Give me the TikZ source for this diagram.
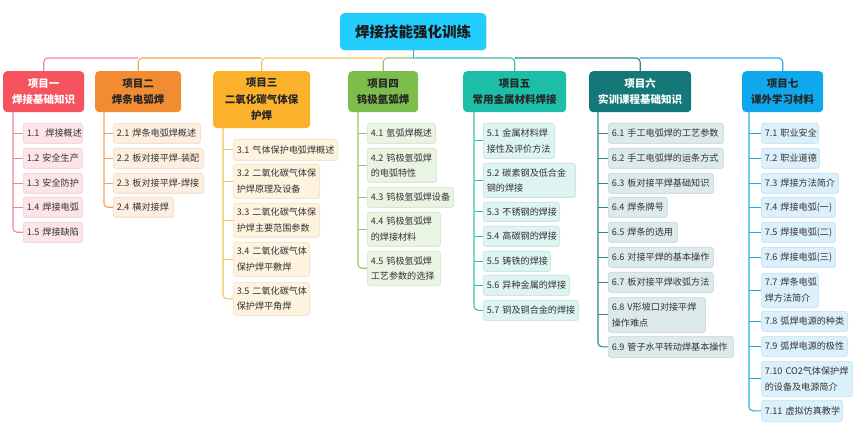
\documentclass[tikz,border=0pt]{standalone}
\usepackage{fontspec}
\setmainfont{Noto Sans CJK SC}
\usetikzlibrary{shadows}
\definecolor{tt}{HTML}{22CCFB}
\definecolor{p1}{HTML}{F6535E}
\definecolor{p2}{HTML}{F28C33}
\definecolor{p3}{HTML}{FBB12B}
\definecolor{p4}{HTML}{7CBD4B}
\definecolor{p5}{HTML}{1CBEA8}
\definecolor{p6}{HTML}{147878}
\definecolor{p7}{HTML}{10A8EC}
\definecolor{l1}{HTML}{EC8A92}
\definecolor{l2}{HTML}{F0A663}
\definecolor{l3}{HTML}{F5C35A}
\definecolor{l4}{HTML}{94C86B}
\definecolor{l5}{HTML}{3CBFAE}
\definecolor{l6}{HTML}{2E8787}
\definecolor{l7}{HTML}{2AA9E8}
\definecolor{f1}{HTML}{FCE4E7}\definecolor{d1}{HTML}{F3CDD2}
\definecolor{f2}{HTML}{FDEEDF}\definecolor{d2}{HTML}{F3DCC6}
\definecolor{f3}{HTML}{FEF3DF}\definecolor{d3}{HTML}{F3E2C2}
\definecolor{f4}{HTML}{EAF4E2}\definecolor{d4}{HTML}{D2E6C5}
\definecolor{f5}{HTML}{DDF4F1}\definecolor{d5}{HTML}{BFE5DF}
\definecolor{f6}{HTML}{DDEAEB}\definecolor{d6}{HTML}{C2D8DA}
\definecolor{f7}{HTML}{DCF0FB}\definecolor{d7}{HTML}{BFE2F5}
\definecolor{kt}{HTML}{333333}
\tikzset{
  proj/.style={rounded corners=4pt, inner sep=0pt, anchor=north west, align=center,
    font=\fontsize{10.5}{16.5}\selectfont\bfseries},
  kid/.style={rounded corners=2.5pt, line width=0.6pt, inner xsep=3.5pt, inner ysep=0pt,
    anchor=north west, align=left, text=kt, font=\fontsize{9.1}{15.5}\selectfont,
    drop shadow={opacity=0.12, shadow xshift=0.7pt, shadow yshift=-0.7pt}},
  k1/.style={kid, fill=f1, draw=d1}, k2/.style={kid, fill=f2, draw=d2},
  k3/.style={kid, fill=f3, draw=d3}, k4/.style={kid, fill=f4, draw=d4},
  k5/.style={kid, fill=f5, draw=d5}, k6/.style={kid, fill=f6, draw=d6},
  k7/.style={kid, fill=f7, draw=d7},
  conn/.style={line width=1.1pt, rounded corners=4pt},
  stub/.style={line width=1.1pt},
}
\newcommand\kbox[7]{\node[#2, text width=#5pt, minimum height=#6pt] (#1) at (#3,#4) {#7};}
\begin{document}
\begin{tikzpicture}[x=1pt, y=-1pt]
\fill[white] (0,0) rectangle (858,435);
\useasboundingbox (0,0) rectangle (858,435);

% title
\node[rounded corners=4pt, fill=tt, anchor=north west, minimum width=146pt, minimum height=37pt,
  inner sep=0pt, font=\fontsize{14.5}{16}\selectfont\bfseries, text=black!90,
  drop shadow={opacity=0.15, shadow xshift=0.8pt, shadow yshift=-0.8pt}] (t) at (340,13) {焊接技能强化训练};

% projects
\node[proj, fill=p1, text=white, minimum width=81pt, minimum height=41pt] (p1) at (3,71) {项目一\\焊接基础知识};
\node[proj, fill=p2, text=black!85, minimum width=86pt, minimum height=41pt] (p2) at (95,71) {项目二\\焊条电弧焊};
\node[proj, fill=p3, text=black!85, minimum width=97pt, minimum height=57pt] (p3) at (213,71) {项目三\\二氧化碳气体保\\护焊};
\node[proj, fill=p4, text=black!85, minimum width=70pt, minimum height=41pt] (p4) at (348,71) {项目四\\钨极氩弧焊};
\node[proj, fill=p5, text=black!85, minimum width=103pt, minimum height=41pt] (p5) at (463,71) {项目五\\常用金属材料焊接};
\node[proj, fill=p6, text=white, minimum width=102pt, minimum height=41pt] (p6) at (589,71) {项目六\\实训课程基础知识};
\node[proj, fill=p7, text=black!85, minimum width=81pt, minimum height=41pt] (p7) at (742,71) {项目七\\课外学习材料};

% bus
\coordinate (tj) at (t.south |- 0,58);
\coordinate (j2) at (p2.north |- 0,58);
\coordinate (j3) at (p3.north |- 0,58);
\coordinate (j4) at (p4.north |- 0,58);
\coordinate (j5) at (p5.north |- 0,58);
\coordinate (j6) at (p6.north |- 0,58);
\draw[conn, l7] (j6) -| (p7.north);
\draw[conn, l6] (j5) -- (j6) -- (p6.north);
\draw[conn, l5] (tj) -- (j5) -- (p5.north);
\draw[conn, l1] (j2) -| (p1.north);
\draw[conn, l2] (j3) -- (j2) -- (p2.north);
\draw[conn, l3] (j4) -- (j3) -- (p3.north);
\draw[conn, l4] (tj) -- (j4) -- (p4.north);
\draw[stub, l7] (t.south) -- (tj);

% children P1
\kbox{c11}{k1}{23}{123}{52}{20}{1.1~~焊接概述}
\kbox{c12}{k1}{23}{148}{52}{20}{1.2~安全生产}
\kbox{c13}{k1}{23}{173}{52}{20}{1.3~安全防护}
\kbox{c14}{k1}{23}{197}{52}{20}{1.4~焊接电弧}
\kbox{c15}{k1}{23}{222}{52}{20}{1.5~焊接缺陷}
% P2
\kbox{c21}{k2}{113}{123}{80}{20}{2.1~焊条电弧焊概述}
\kbox{c22}{k2}{113}{148}{83}{20}{\mbox{2.2~板对接平焊-装配}}
\kbox{c23}{k2}{113}{173}{83}{20}{\mbox{2.3~板对接平焊-焊接}}
\kbox{c24}{k2}{113}{197}{53}{20}{2.4~横对接焊}
% P3
\kbox{c31}{k3}{233}{139}{97}{21}{3.1~气体保护电弧焊概述}
\kbox{c32}{k3}{233}{164}{79}{34}{3.2~二氧化碳气体保\\护焊原理及设备}
\kbox{c33}{k3}{233}{203}{79}{34}{3.3~二氧化碳气体保\\护焊主要范围参数}
\kbox{c34}{k3}{233}{242}{69}{34}{3.4~二氧化碳气体\\保护焊平敷焊}
\kbox{c35}{k3}{233}{282}{69}{33}{3.5~二氧化碳气体\\保护焊平角焊}
% P4
\kbox{c41}{k4}{367}{123}{61}{20}{4.1~氩弧焊概述}
\kbox{c42}{k4}{367}{148}{62}{34}{4.2~钨极氩弧焊\\的电弧特性}
\kbox{c43}{k4}{367}{187}{79}{20}{4.3~钨极氩弧焊设备}
\kbox{c44}{k4}{367}{212}{66}{34}{4.4~钨极氩弧焊\\的焊接材料}
\kbox{c45}{k4}{367}{251}{66}{34}{4.5~钨极氩弧焊\\工艺参数的选择}
% P5
\kbox{c51}{k5}{483}{123}{64}{35}{5.1~金属材料焊\\接性及评价方法}
\kbox{c52}{k5}{483}{163}{85}{34}{5.2~碳素钢及低合金\\钢的焊接}
\kbox{c53}{k5}{483}{202}{69}{19}{5.3~不锈钢的焊接}
\kbox{c54}{k5}{483}{226}{69}{20}{5.4~高碳钢的焊接}
\kbox{c55}{k5}{483}{251}{60}{20}{5.5~铸铁的焊接}
\kbox{c56}{k5}{483}{275}{79}{20}{5.6~异种金属的焊接}
\kbox{c57}{k5}{483}{300}{88}{20}{5.7~铜及铜合金的焊接}
% P6
\kbox{c61}{k6}{608}{123}{108}{20}{6.1~手工电弧焊的工艺参数}
\kbox{c62}{k6}{608}{148}{108}{20}{6.2~手工电弧焊的运条方式}
\kbox{c63}{k6}{608}{173}{98}{20}{6.3~板对接平焊基础知识}
\kbox{c64}{k6}{608}{197}{52}{20}{6.4~焊条牌号}
\kbox{c65}{k6}{608}{222}{62}{20}{6.5~焊条的选用}
\kbox{c66}{k6}{608}{247}{98}{20}{6.6~对接平焊的基本操作}
\kbox{c67}{k6}{608}{272}{98}{20}{6.7~板对接平焊收弧方法}
\kbox{c68}{k6}{608}{297}{90}{35}{6.8~V形坡口对接平焊\\操作难点}
\kbox{c69}{k6}{608}{336}{118}{21}{6.9~管子水平转动焊基本操作}
% P7
\kbox{c71}{k7}{761}{123}{50}{20}{7.1~职业安全}
\kbox{c72}{k7}{761}{148}{51}{20}{7.2~职业道德}
\kbox{c73}{k7}{761}{173}{70}{20}{7.3~焊接方法简介}
\kbox{c74}{k7}{761}{197}{67}{20}{7.4~焊接电弧(一)}
\kbox{c75}{k7}{761}{222}{67}{20}{7.5~焊接电弧(二)}
\kbox{c76}{k7}{761}{247}{67}{20}{7.6~焊接电弧(三)}
\kbox{c77}{k7}{761}{273}{50}{34}{7.7~焊条电弧\\焊方法简介}
\kbox{c78}{k7}{761}{311}{79}{20}{7.8~弧焊电源的种类}
\kbox{c79}{k7}{761}{336}{79}{20}{7.9~弧焊电源的极性}
\kbox{c710}{k7}{761}{361}{84}{35}{7.10~CO2气体保护焊\\的设备及电源简介}
\kbox{c711}{k7}{761}{400}{74}{21}{7.11~虚拟仿真教学}

% trunks
\coordinate (t1) at (13,112);
\coordinate (t2) at (104,112);
\coordinate (t3) at (223,128);
\coordinate (t4) at (358,112);
\coordinate (t5) at (474,112);
\coordinate (t6) at (598,112);
\coordinate (t7) at (749,112);
\draw[conn, l1] (t1) |- (c15.west);
\foreach \c in {c11,c12,c13,c14} \draw[stub, l1] (t1 |- \c.west) -- (\c.west);
\draw[conn, l2] (t2) |- (c24.west);
\foreach \c in {c21,c22,c23} \draw[stub, l2] (t2 |- \c.west) -- (\c.west);
\draw[conn, l3] (t3) |- (c35.west);
\foreach \c in {c31,c32,c33,c34} \draw[stub, l3] (t3 |- \c.west) -- (\c.west);
\draw[conn, l4] (t4) |- (c45.west);
\foreach \c in {c41,c42,c43,c44} \draw[stub, l4] (t4 |- \c.west) -- (\c.west);
\draw[conn, l5] (t5) |- (c57.west);
\foreach \c in {c51,c52,c53,c54,c55,c56} \draw[stub, l5] (t5 |- \c.west) -- (\c.west);
\draw[conn, l6] (t6) |- (c69.west);
\foreach \c in {c61,c62,c63,c64,c65,c66,c67,c68} \draw[stub, l6] (t6 |- \c.west) -- (\c.west);
\draw[conn, l7] (t7) |- (c711.west);
\foreach \c in {c71,c72,c73,c74,c75,c76,c77,c78,c79,c710} \draw[stub, l7] (t7 |- \c.west) -- (\c.west);
\end{tikzpicture}
\end{document}
